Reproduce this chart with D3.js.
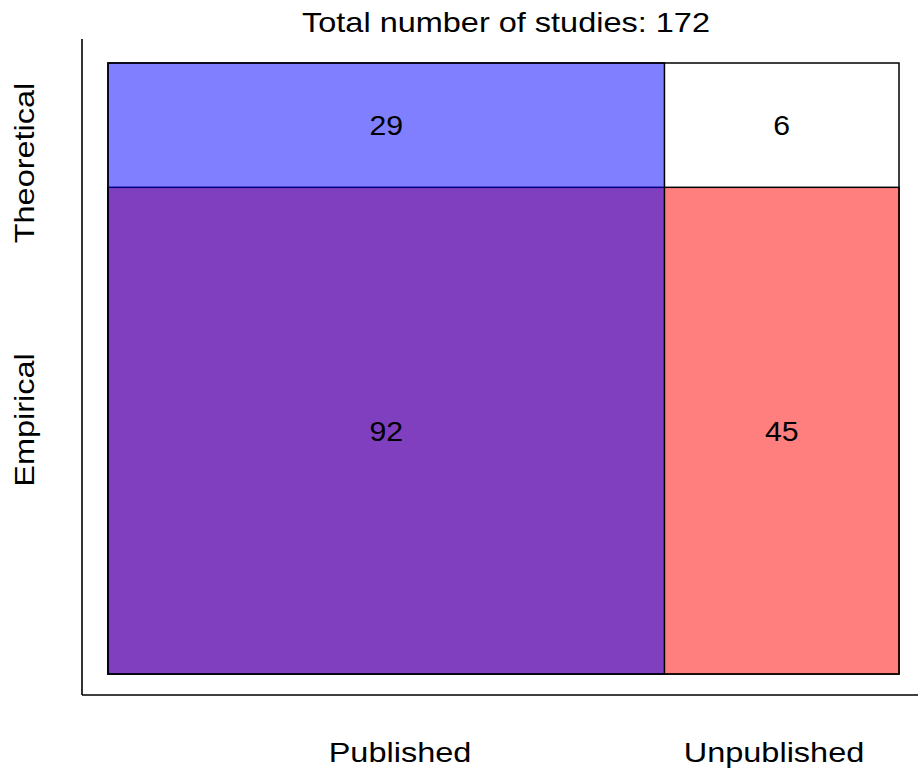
<!DOCTYPE html>
<html><head><meta charset="utf-8">
<script src="https://cdn.jsdelivr.net/npm/d3@7"></script>
<style>body{margin:0;background:#fff}svg{display:block}text{font-family:"Liberation Sans",Arial,sans-serif;fill:#000}</style>
</head><body><svg id="c" width="918" height="772"></svg>
<script>
const columns = ["Published", "Unpublished"];
const rows = ["Theoretical", "Empirical"];
// counts[row][col]
const counts = [[29, 6], [92, 45]];
const title = "Total number of studies: 172";

const svg = d3.select("#c");
const total = d3.sum(counts.flat());
const colTotals = columns.map((c, j) => d3.sum(rows, (r, i) => counts[i][j]));
const rowTotals = rows.map((r, i) => d3.sum(counts[i]));
const colCum = [0, ...d3.cumsum(colTotals)];
const rowCum = [0, ...d3.cumsum(rowTotals)];

const x = d3.scaleLinear().domain([0, total]).range([108, 899]);
const y = d3.scaleLinear().domain([0, total]).range([63, 674]);

const FS = 28, SX = 1.16;

// axis lines
svg.append("line").attr("x1", 82).attr("x2", 82).attr("y1", 39).attr("y2", 695)
  .attr("stroke", "#000").attr("stroke-width", 1.6);
svg.append("line").attr("x1", 82).attr("x2", 918).attr("y1", 695).attr("y2", 695)
  .attr("stroke", "#000").attr("stroke-width", 1.6);

// outer frame (white)
svg.append("rect").attr("x", x(0)).attr("y", y(0))
  .attr("width", x(total) - x(0)).attr("height", y(total) - y(0))
  .attr("fill", "#fff").attr("stroke", "#000").attr("stroke-width", 1.5);

// Empirical row band (red, semi-transparent)
const ri = 1;
svg.append("rect").attr("x", x(0)).attr("y", y(rowCum[ri]))
  .attr("width", x(total) - x(0)).attr("height", y(rowCum[ri + 1]) - y(rowCum[ri]))
  .attr("fill", "rgba(255,0,0,0.5)").attr("stroke", "#000").attr("stroke-width", 1.5);

// Published column band (blue, semi-transparent)
const cj = 0;
svg.append("rect").attr("x", x(colCum[cj])).attr("y", y(0))
  .attr("width", x(colCum[cj + 1]) - x(colCum[cj])).attr("height", y(total) - y(0))
  .attr("fill", "rgba(0,0,255,0.5)").attr("stroke", "#000").attr("stroke-width", 1.5);

// cell counts
rows.forEach((r, i) => columns.forEach((c, j) => {
  const cx = (x(colCum[j]) + x(colCum[j + 1])) / 2;
  const cy = (y(rowCum[i]) + y(rowCum[i + 1])) / 2;
  svg.append("text")
    .attr("transform", `translate(${cx},${cy}) scale(1.08,1)`)
    .attr("dy", "0.36em").attr("text-anchor", "middle")
    .attr("font-size", FS).text(counts[i][j]);
}));

// title
svg.append("text").attr("transform", `translate(506,32) scale(${SX},1)`)
  .attr("text-anchor", "middle").attr("font-size", FS).text(title);

// column labels
const xl = d3.scalePoint().domain(columns).range([400, 774]);
svg.selectAll(".xl").data(columns).join("text")
  .attr("transform", d => `translate(${xl(d)},762) scale(${SX},1)`)
  .attr("text-anchor", "middle").attr("font-size", FS).text(d => d);

// row labels
const yl = d3.scalePoint().domain(rows).range([163, 420]);
svg.selectAll(".yl").data(rows).join("text")
  .attr("transform", d => `translate(34,${yl(d)}) rotate(-90) scale(${SX},1)`)
  .attr("text-anchor", "middle").attr("font-size", FS).text(d => d);
</script></body></html>
